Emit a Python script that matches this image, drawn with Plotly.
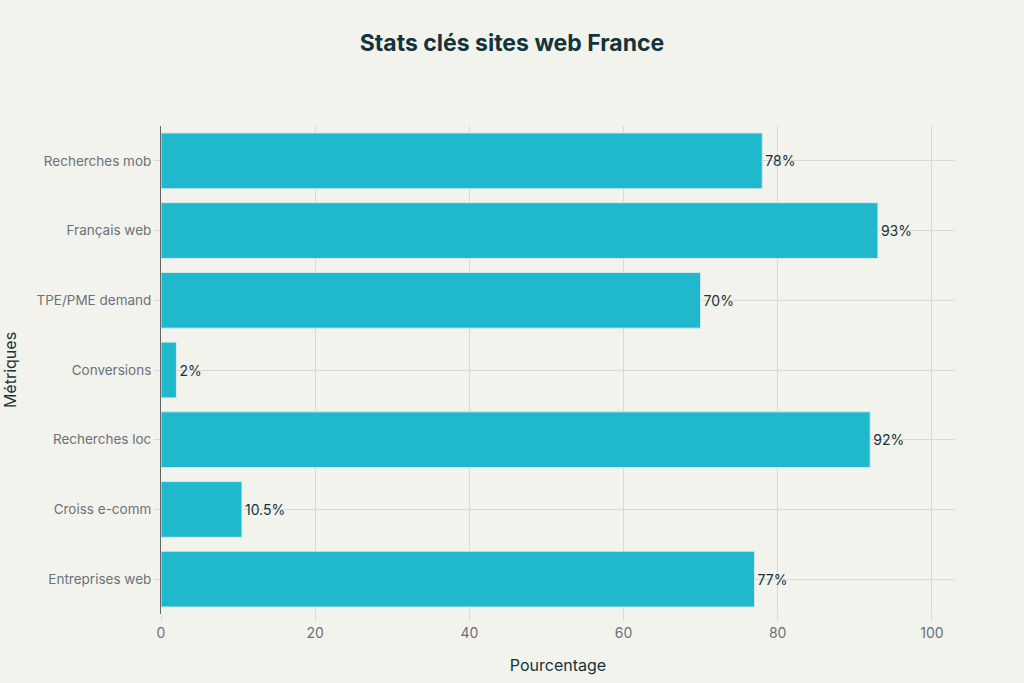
import plotly.graph_objects as go

categories = ["Entreprises web", "Croiss e-comm", "Recherches loc", "Conversions",
              "TPE/PME demand", "Français web", "Recherches mob"]
values = [77, 10.5, 92, 2, 70, 93, 78]
labels = ["77%", "10.5%", "92%", "2%", "70%", "93%", "78%"]

fig = go.Figure(go.Bar(
    x=values, y=categories, orientation="h",
    marker=dict(color="#1FB8CD", line=dict(color="#D8E8E8", width=1)),
    text=labels, textposition="outside", cliponaxis=False,
    textfont=dict(size=14, color="#13343B"),
    width=0.8,
))

fig.update_layout(
    width=1024, height=683,
    paper_bgcolor="#F3F3EE", plot_bgcolor="#F3F3EE",
    font=dict(family="Inter, Open Sans, sans-serif", color="#13343B"),
    title=dict(text="<b>Stats clés sites web France</b>", x=0.5, xanchor="center",
               y=0.937, yanchor="middle", font=dict(size=23, color="#13343B")),
    margin=dict(l=161, r=69, t=126, b=69),
    showlegend=False,
    bargap=0.2,
)
fig.update_xaxes(
    range=[0, 103], dtick=20, showgrid=True, gridcolor="#D9D9D4", gridwidth=1,
    zeroline=False, ticks="outside", ticklen=6, tickcolor="#D9D9D4",
    tickfont=dict(size=14, color="#6B7178"), automargin=False,
    title=dict(text="Pourcentage", font=dict(size=16, color="#13343B"), standoff=20),
)
fig.update_yaxes(
    showgrid=True, gridcolor="#D9D9D4", gridwidth=1,
    showline=True, linecolor="#666666", linewidth=1,
    ticks="outside", ticklen=6, tickcolor="#D9D9D4", automargin=False,
    tickfont=dict(size=13.5, color="#6B7178"),
    title=dict(text="Métriques", font=dict(size=16, color="#13343B"), standoff=18),
)

fig.write_html(
    "out.html",
    config={"displayModeBar": False},
    post_script="document.body.style.margin='0';document.body.style.padding='0';"
                "document.body.style.overflow='hidden';",
)
